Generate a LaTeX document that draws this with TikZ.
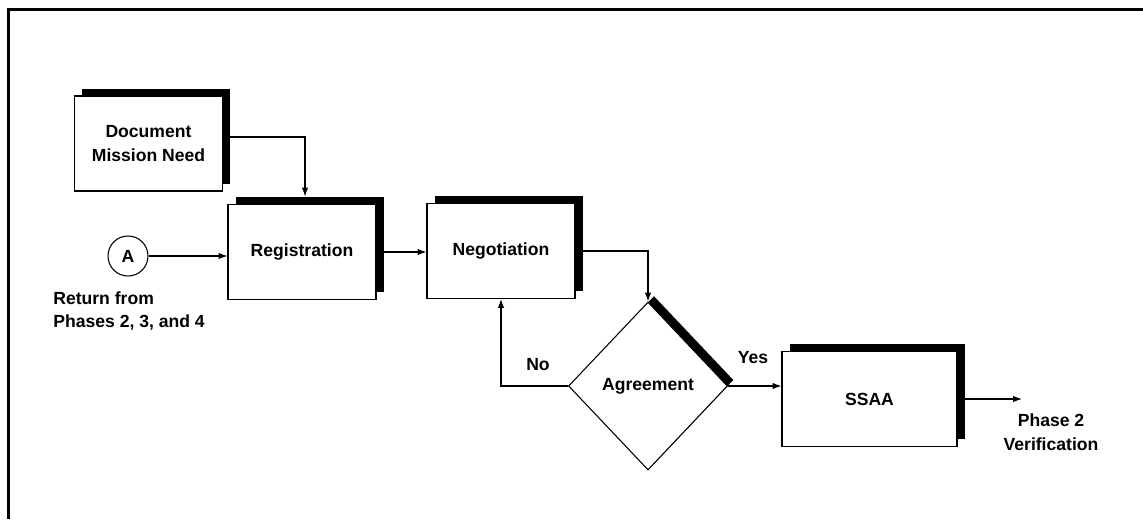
\documentclass[tikz,border=0pt]{standalone}
\usepackage{fontspec}
\setmainfont{Liberation Sans}
\usetikzlibrary{shapes.geometric,arrows.meta,shadows,positioning}
\tikzset{
  stepbox/.style={draw=cln,fill=cfl,line width=0.6pt,minimum width=2.96cm,minimum height=1.9cm,
    inner sep=2pt,align=center,font=\fontsize{10}{13.5}\selectfont\bfseries,
    general shadow={fill=csh,shadow xshift=0.15cm,shadow yshift=0.15cm}},
  decision/.style={diamond,draw=cln,fill=cfl,line width=0.6pt,minimum width=3.18cm,minimum height=3.36cm,
    inner sep=0pt,font=\fontsize{10}{13.5}\selectfont\bfseries,
    general shadow={fill=csh,shadow xshift=0.12cm,shadow yshift=0.12cm}},
  joint/.style={circle,draw=cln,fill=cfl,line width=0.6pt,minimum size=0.8cm,inner sep=0pt,
    font=\fontsize{10}{13.5}\selectfont\bfseries},
  note/.style={inner sep=0pt,align=left,font=\fontsize{10}{13.5}\selectfont\bfseries},
  flow/.style={draw=cln,line width=0.6pt,-{Latex[length=5pt,width=3.6pt]}},
}
\begin{document}
\begin{tikzpicture}
%
\useasboundingbox (0,0) rectangle (22.86cm,10.38cm);
%
\definecolor{cln}{rgb}{0.0,0.0,0.0}
\definecolor{cfl}{rgb}{1.0,1.0,1.0}
\definecolor{csh}{rgb}{0.0,0.0,0.0}
%
\draw[cln,line width=1.4pt] (0.17,0) -- (0.17,10.19) -- (22.86,10.19);
%
\node[stepbox] (doc) at (2.97,7.51) {Document\\Mission Need};
\node[stepbox] (reg) at (6.04,5.34) {Registration};
\node[stepbox] (neg) at (10.02,5.36) {Negotiation};
\node[decision] (agr) at (12.96,2.66) {Agreement};
\node[stepbox,minimum width=3.5cm] (ssaa) at (17.39,2.40) {SSAA};
\node[joint] (a) at (2.56,5.26) {A};
%
\node[note,anchor=north west] (ret) at (1.06,4.56) {Return from\\Phases 2, 3, and 4};
\node[note] (no) at (10.76,3.08) {No};
\node[note] (yes) at (15.06,3.22) {Yes};
\node[note,align=center] (ver) at (21.02,1.74) {Phase 2\\Verification};
\coordinate (out) at (20.44,2.40);
%
\draw[flow,shorten >=0.15cm] ([yshift=0.13cm]doc.east) -| ([xshift=0.06cm]reg.north);
\draw[flow] (a.east) -- (a.east -| reg.west);
\draw[flow] (reg.east) -- (reg.east -| neg.west);
\draw[flow] (neg.east) -| (agr.north);
\draw[flow] (agr.west) -| (neg.south);
\draw[flow] (agr.east) -- (agr.east -| ssaa.west);
\draw[flow] (ssaa.east) -- (out);
%
\end{tikzpicture}
\end{document}
